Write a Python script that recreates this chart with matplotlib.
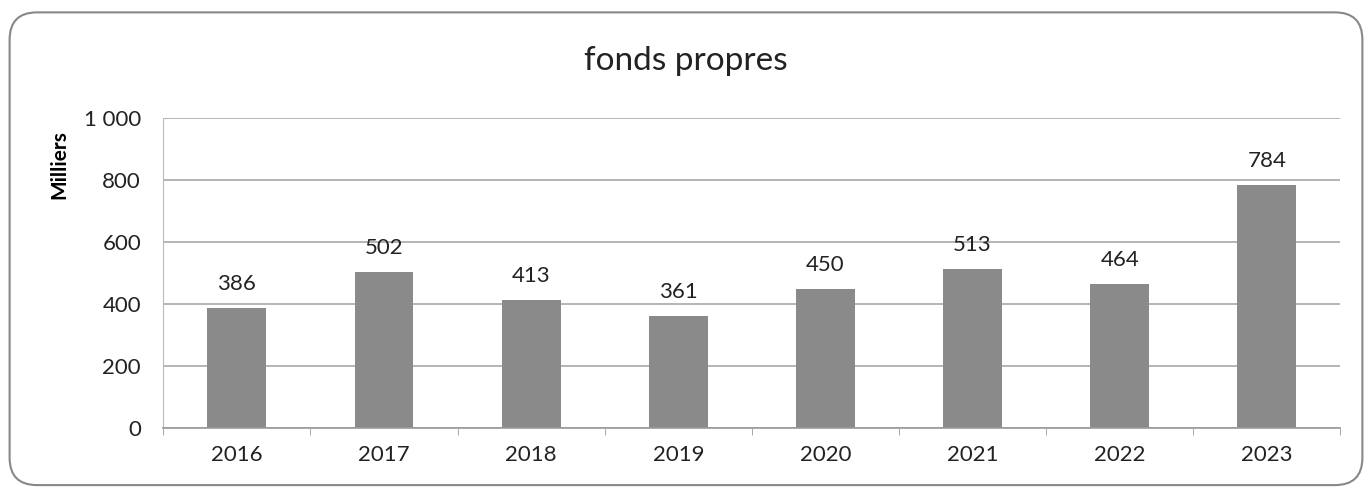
import matplotlib.pyplot as plt
from matplotlib.patches import FancyBboxPatch

# Fonds propres par année (en milliers)
years = ['2016', '2017', '2018', '2019', '2020', '2021', '2022', '2023']
fonds = [386, 502, 413, 361, 450, 513, 464, 784]
yticks = [0, 200, 400, 600, 800, 1000]
ytick_labels = ['0', '200', '400', '600', '800', '1 000']

plt.rcParams['font.family'] = ['Lato', 'DejaVu Sans']

fig = plt.figure(figsize=(13.72, 4.95), dpi=100)
ax = fig.add_axes([0.119, 0.135, 0.858, 0.627])

x = range(len(years))
ax.bar(x, fonds, width=0.4, color='#8a8a8a', zorder=2)
for xi, v in zip(x, fonds):
    ax.text(xi, v + 45, str(v), ha='center', va='bottom', fontsize=16, color='#222222')

ax.set_xlim(-0.5, len(years) - 0.5)
ax.set_ylim(0, 1000)
ax.set_yticks(yticks)
ax.set_yticklabels(ytick_labels, fontsize=16, color='#222222')
ax.set_xticks(list(x))
ax.set_xticklabels(years, fontsize=16, color='#222222')
ax.tick_params(axis='x', length=0, pad=12)
ax.tick_params(axis='y', length=0, pad=16)
# petits traits entre les catégories
ax.set_xticks([i - 0.5 for i in range(len(years) + 1)], minor=True)
ax.tick_params(axis='x', which='minor', length=5, color='#999999', direction='out')

ax.grid(axis='y', color='#a8a8a8', linewidth=1.2, zorder=0)
for side in ['top', 'right']:
    ax.spines[side].set_visible(False)
ax.spines['left'].set_color('#bbbbbb')
ax.spines['bottom'].set_color('#999999')
ax.spines['bottom'].set_linewidth(1.2)

ax.set_ylabel('Milliers', fontsize=15, fontweight='bold')
ax.yaxis.set_label_coords(-0.08, 0.85)
fig.text(0.5, 0.877, 'fonds propres', ha='center', va='center', fontsize=24, color='#222222')

# cadre arrondi autour du graphique
frame = FancyBboxPatch((0.007, 0.02), 0.986, 0.955, boxstyle='round,pad=0,rounding_size=0.02',
                       transform=fig.transFigure, facecolor='none', edgecolor='#888888',
                       linewidth=1.5, mutation_aspect=2.77)
fig.patches.append(frame)

fig.savefig('out.png', dpi=100)
